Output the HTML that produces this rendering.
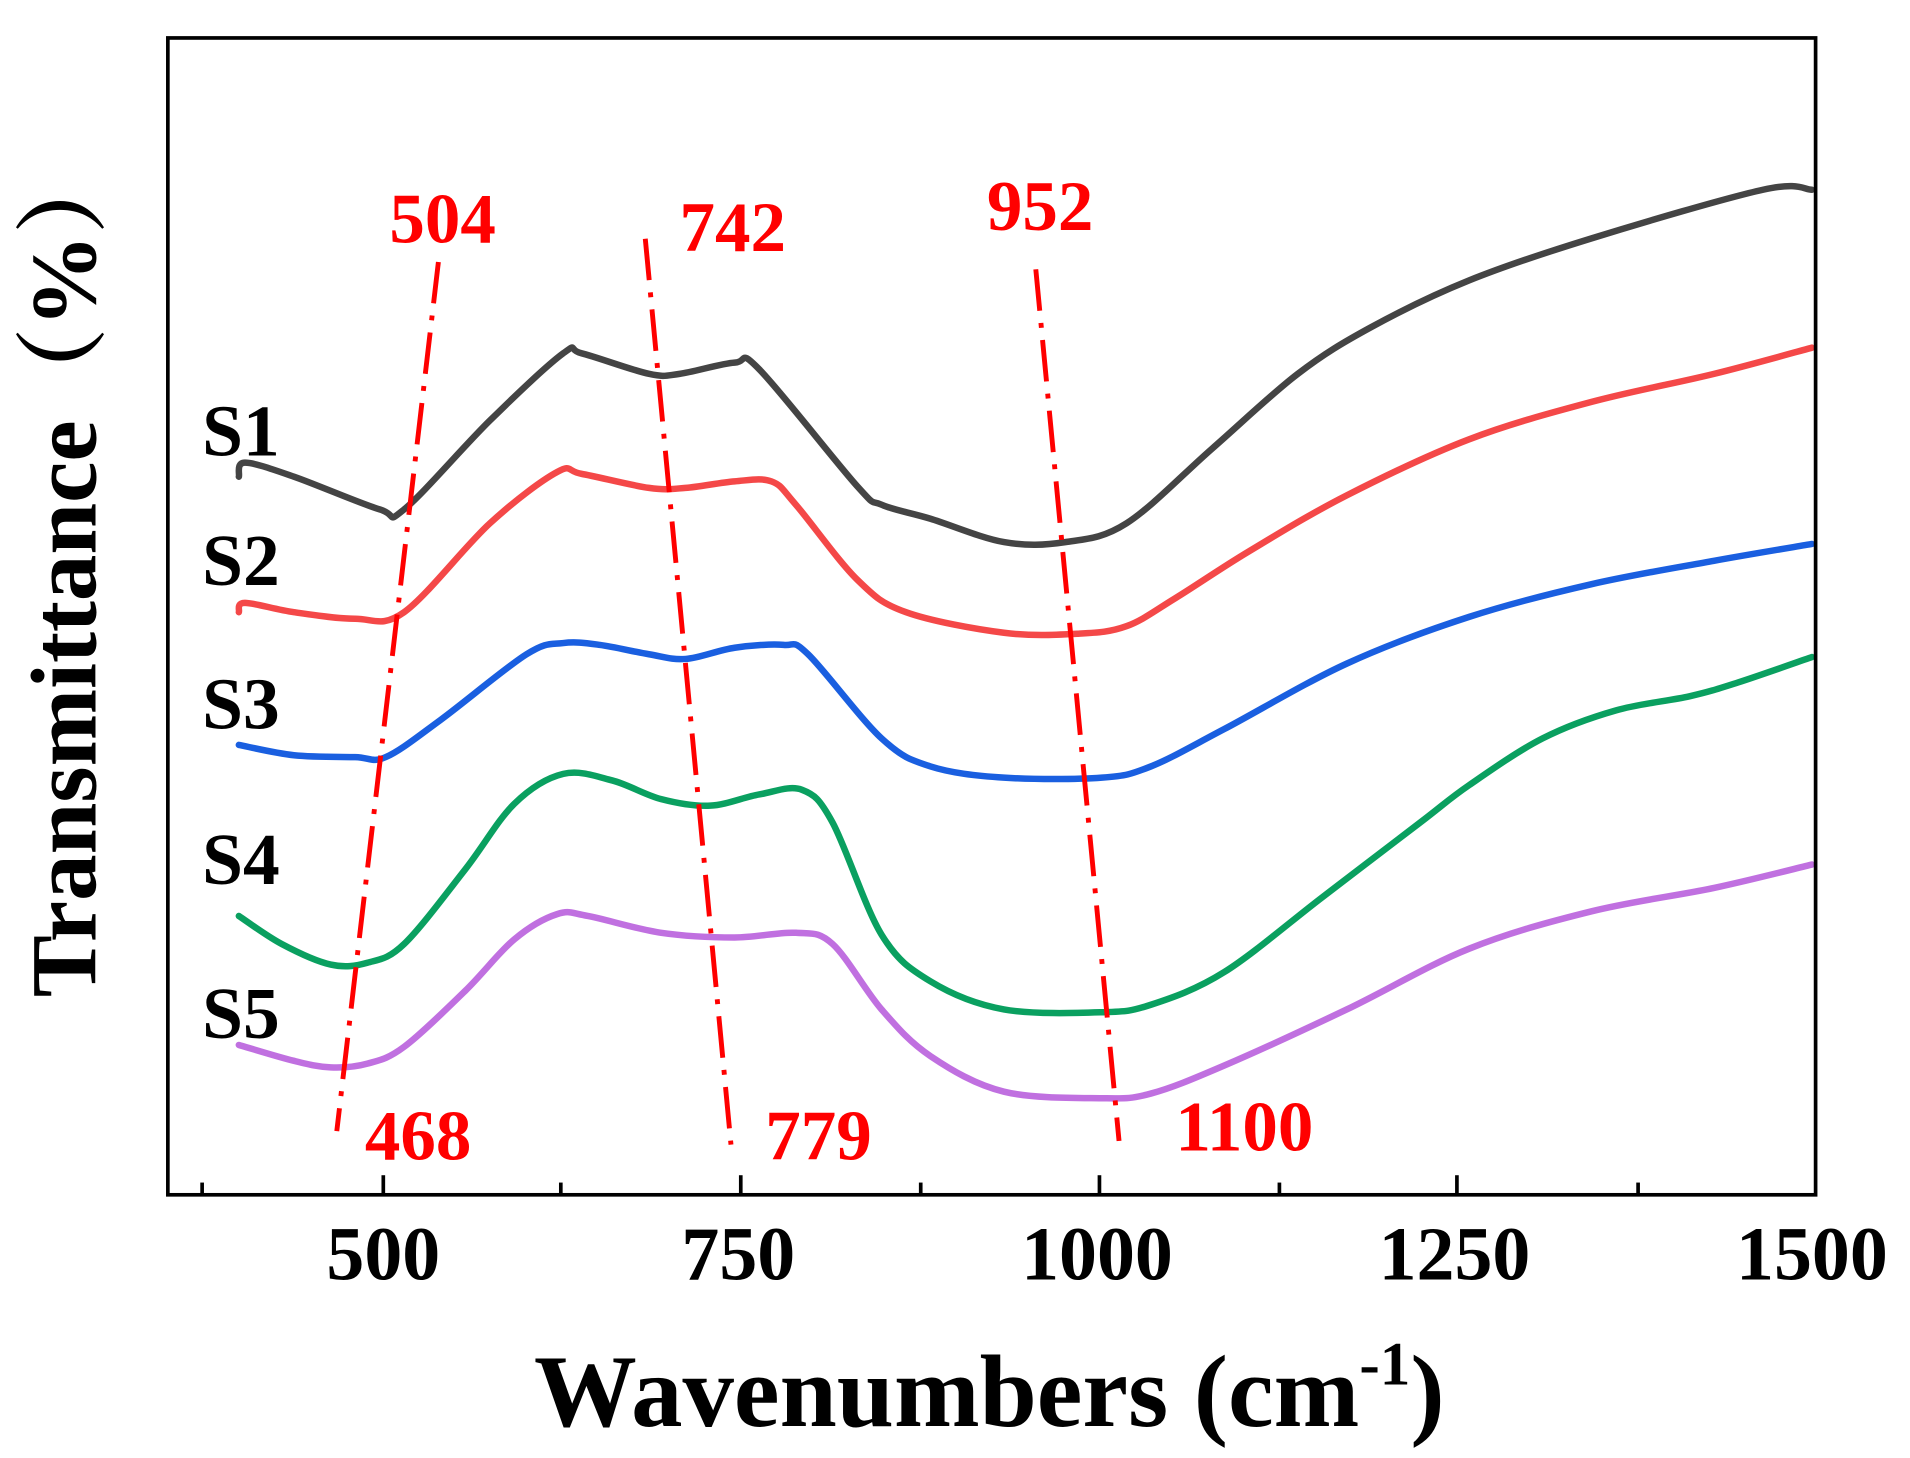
<!DOCTYPE html>
<html><head><meta charset="utf-8"><style>
html,body{margin:0;padding:0;background:#fff;overflow:hidden;}
svg{display:block;}
text{font-family:"Liberation Serif",serif;font-weight:bold;}
</style></head><body>
<svg width="1910" height="1458" viewBox="0 0 1560 1191" xmlns="http://www.w3.org/2000/svg">
<rect width="1560" height="1191" fill="#fff"/>
<g transform="scale(1,0.7635)">
<g id="curves" fill="none" stroke-width="6.5" stroke-linejoin="round" stroke-linecap="round">
<polyline vector-effect="non-scaling-stroke" stroke="#444" points="195,510 200,495 240,510 310,545 330,545 400,450 460,378 475,378 530,400 555,400 600,388 620,395 700,520 720,540 760,555 820,580 870,580 920,560 990,480 1060,400 1120,350 1200,300 1300,255 1440,203 1480,203"/>
<polyline vector-effect="non-scaling-stroke" stroke="#f44848" points="195,655 200,645 240,655 290,662 330,655 400,560 455,505 475,507 530,522 560,522 600,515 630,515 650,540 700,620 740,655 820,677 880,678 920,670 960,640 1020,590 1100,530 1200,470 1300,430 1400,400 1480,372"/>
<polyline vector-effect="non-scaling-stroke" stroke="#1a5fe0" points="195,797 240,808 290,810 315,810 360,770 430,700 460,688 490,690 530,700 560,705 600,693 640,690 660,700 720,790 760,820 820,832 900,832 940,820 1000,780 1100,710 1200,660 1300,625 1400,600 1480,582"/>
<polyline vector-effect="non-scaling-stroke" stroke="#0aa060" points="195,980 230,1010 270,1032 300,1030 330,1010 380,930 420,860 460,828 500,835 540,855 580,862 620,850 655,845 680,880 720,1000 760,1050 820,1080 900,1083 940,1075 1000,1040 1080,960 1160,880 1200,840 1260,790 1320,760 1380,745 1420,730 1480,703"/>
<polyline vector-effect="non-scaling-stroke" stroke="#c070e0" points="195,1118 240,1135 270,1142 300,1138 330,1120 380,1060 420,1005 455,978 480,980 540,998 600,1003 650,998 680,1010 720,1080 760,1130 820,1168 900,1175 940,1170 1000,1140 1100,1080 1200,1015 1300,975 1400,950 1480,925"/>
</g>
</g>
<g stroke="#f00" stroke-width="4" stroke-dasharray="34,10,4,10" fill="none">
<line x1="358" y1="214" x2="275" y2="924"/>
<line x1="527" y1="195" x2="597" y2="935"/>
<line x1="846" y1="220" x2="914" y2="932"/>
</g>
<rect x="137" y="31" width="1346" height="945" fill="none" stroke="#000" stroke-width="3"/>
<g stroke="#000" stroke-width="3">
<line x1="313" y1="976" x2="313" y2="960"/><line x1="605" y1="976" x2="605" y2="960"/><line x1="898" y1="976" x2="898" y2="960"/><line x1="1190" y1="976" x2="1190" y2="960"/>
<line x1="165" y1="976" x2="165" y2="966"/><line x1="458" y1="976" x2="458" y2="966"/><line x1="752" y1="976" x2="752" y2="966"/><line x1="1045" y1="976" x2="1045" y2="966"/><line x1="1338" y1="976" x2="1338" y2="966"/>
</g>
<g font-size="62" text-anchor="middle" fill="#000">
<text x="313" y="1045">500</text><text x="603" y="1045">750</text><text x="896" y="1045">1000</text><text x="1188" y="1045">1250</text><text x="1480" y="1045">1500</text>
</g>
<text x="808" y="1165" font-size="84" text-anchor="middle">Wavenumbers (cm<tspan font-size="50" dy="-34">-1</tspan><tspan dy="34">)</tspan></text>
<text transform="translate(78,465) rotate(-90)" font-size="76" text-anchor="middle" style="font-family:'Liberation Serif','Noto Serif CJK SC',serif">Transmittance（%）</text>
<g font-size="60" fill="#000">
<text x="165" y="372">S1</text><text x="165" y="478">S2</text><text x="165" y="595">S3</text><text x="165" y="722">S4</text><text x="165" y="848">S5</text>
</g>
<g font-size="58" fill="#f00">
<text x="318" y="198">504</text><text x="555" y="205">742</text><text x="806" y="188">952</text>
<text x="298" y="947">468</text><text x="625" y="947">779</text><text x="960" y="940">1100</text>
</g>
</svg>
<script>
(function(){
var NS="http://www.w3.org/2000/svg";
var pls=document.querySelectorAll("#curves polyline");
for(var i=0;i<pls.length;i++){
var pl=pls[i];var a=pl.getAttribute("points").trim().split(/\s+/).map(function(s){return s.split(",").map(Number);});
var d="M"+a[0][0]+","+a[0][1];
for(var k=0;k<a.length-1;k++){
var p0=a[k-1]||a[k],p1=a[k],p2=a[k+1],p3=a[k+2]||a[k+1];
var c1x=p1[0]+(p2[0]-p0[0])/6,c1y=p1[1]+(p2[1]-p0[1])/6;
var c2x=p2[0]-(p3[0]-p1[0])/6,c2y=p2[1]-(p3[1]-p1[1])/6;
d+=" C"+c1x+","+c1y+" "+c2x+","+c2y+" "+p2[0]+","+p2[1];}
var p=document.createElementNS(NS,"path");
p.setAttribute("d",d);p.setAttribute("stroke",pl.getAttribute("stroke"));
p.setAttribute("vector-effect","non-scaling-stroke");
pl.parentNode.replaceChild(p,pl);}
})();
</script>
</body></html>
